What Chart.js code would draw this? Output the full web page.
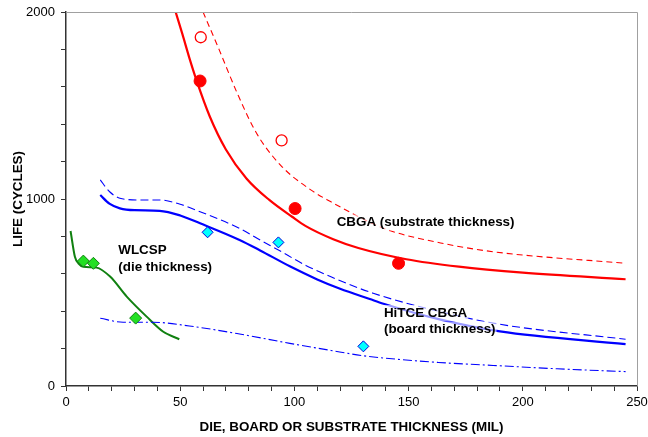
<!DOCTYPE html>
<html>
<head>
<meta charset="utf-8">
<script src="https://cdn.jsdelivr.net/npm/chart.js@4.4.0/dist/chart.umd.min.js"></script>
<style>
  html, body { margin: 0; padding: 0; background: #fff; }
  #wrap { width: 648px; height: 437px; }
</style>
</head>
<body>
<div id="wrap"><canvas id="chart"></canvas></div>
<script>
// --- 数据区域 (thickness in mil, life in cycles) ---
const xTicksLabelled = [0, 50, 100, 150, 200, 250];
const yTicksLabelled = [0, 1000, 2000];

// CBGA (substrate thickness) fitted curves
const cbgaSolidX = [48, 51, 54, 57, 63, 70, 79, 89, 99, 105, 117, 128, 149, 172, 200, 245];
const cbgaSolidY = [2000, 1880, 1755, 1640, 1440, 1265, 1110, 995, 905, 855, 785, 738, 678, 638, 606, 571];
const cbgaDashX = [60, 67, 75, 83.5, 94, 107, 116, 134, 142, 164, 187, 245];
const cbgaDashY = [2000, 1800, 1565, 1350, 1180, 1050, 985, 870, 830, 765, 718, 656];
const cbgaFilledX = [58.7, 100.3, 145.6];
const cbgaFilledY = [1631, 949, 656];
const cbgaOpenX = [59, 94.4];
const cbgaOpenY = [1865, 1313];

// HiTCE CBGA (board thickness)
const hitceSolidX = [15, 19, 23.6, 30, 41, 50, 58.7, 76, 85, 98, 110, 120, 133, 139, 164, 190, 245];
const hitceSolidY = [1021, 975, 950, 940, 937, 912, 870, 781, 725, 640, 570, 520, 465, 440, 355, 292, 224];
const hitceDashX = [15, 19, 23.6, 32, 41, 50, 58.7, 76, 85, 93, 105, 116, 134.5, 164, 190, 245];
const hitceDashY = [1102, 1040, 1004, 995, 995, 972, 932, 843, 781, 727, 645, 584, 496, 397, 330, 250];
const hitceDotX = [15, 25, 38, 54, 76, 98, 116, 130, 145, 163, 187, 215, 245];
const hitceDotY = [362, 341, 341, 321, 278, 228, 190, 162, 143, 126, 110, 92, 77];
const hitcePtsX = [62, 93, 130.2];
const hitcePtsY = [822, 768, 212];

// WLCSP (die thickness)
const wlcspX = [2, 3.9, 5.5, 7.6, 13.4, 19.3, 26.6, 35.3, 42.6, 49.6];
const wlcspY = [829, 691, 655, 638, 633, 585, 478, 371, 290, 250];
const wlcspPtsX = [7.6, 12, 30.5];
const wlcspPtsY = [668, 656, 363];

// 图中文字标注 (data coordinates of left / baseline)
const notes = [
    { text: 'CBGA (substrate thickness)', x: 118.5, y: 853 },
    { text: 'HiTCE CBGA', x: 139.2, y: 369 },
    { text: '(board thickness)', x: 139.2, y: 281 },
    { text: 'WLCSP', x: 22.9, y: 706 },
    { text: '(die thickness)', x: 22.9, y: 615 }
];

const pts = (xs, ys) => xs.map((x, i) => ({ x: x, y: ys[i] }));
const FONT = "'Liberation Sans', Arial, sans-serif";

function curve(xs, ys, color, width, dash) {
    return {
        data: pts(xs, ys), showLine: true, borderColor: color, borderWidth: width,
        borderDash: dash || [], pointRadius: 0, cubicInterpolationMode: 'monotone', fill: false
    };
}
function marks(xs, ys, style, radius, fillColor, edgeColor, edgeWidth) {
    return {
        data: pts(xs, ys), showLine: false, pointStyle: style, pointRadius: radius,
        backgroundColor: fillColor, borderColor: edgeColor, borderWidth: edgeWidth
    };
}

// 外框 + 文字标注
const framePlugin = {
    id: 'frame',
    afterDatasetsDraw(chart) {
        const { ctx, chartArea: a, scales } = chart;
        ctx.save();
        ctx.strokeStyle = '#a0a0a0';
        ctx.lineWidth = 1;
        ctx.beginPath();
        ctx.moveTo(a.left, a.top + 0.5);
        ctx.lineTo(a.right + 0.5, a.top + 0.5);
        ctx.lineTo(a.right + 0.5, a.bottom);
        ctx.stroke();

        ctx.font = 'bold 13.4px ' + FONT;
        ctx.textBaseline = 'alphabetic';
        ctx.textAlign = 'left';
        notes.forEach(n => {
            const px = scales.x.getPixelForValue(n.x);
            const py = scales.y.getPixelForValue(n.y);
            const w = ctx.measureText(n.text).width;
            ctx.fillStyle = 'rgba(255,255,255,0.6)';
            ctx.fillRect(px - 1, py - 12, w + 2, 16);
            ctx.fillStyle = '#000';
            ctx.fillText(n.text, px, py);
        });
        ctx.restore();
    }
};

new Chart(document.getElementById('chart'), {
    type: 'scatter',
    data: {
        datasets: [
            marks(cbgaFilledX, cbgaFilledY, 'circle', 6, '#ff0000', '#ff0000', 1),
            marks(cbgaOpenX, cbgaOpenY, 'circle', 5.5, '#ffffff', '#ff0000', 1.3),
            marks(hitcePtsX, hitcePtsY, 'rectRot', 5.5, '#00ffff', '#0000dd', 1),
            marks(wlcspPtsX, wlcspPtsY, 'rectRot', 6, '#22e022', '#108010', 1),
            curve(cbgaSolidX, cbgaSolidY, '#ff0000', 2.2),
            curve(cbgaDashX, cbgaDashY, '#ff0000', 1.1, [6, 4]),
            curve(hitceSolidX, hitceSolidY, '#0000ff', 2.2),
            curve(hitceDashX, hitceDashY, '#0000ff', 1.1, [8, 4]),
            curve(hitceDotX, hitceDotY, '#0000ff', 1.1, [9, 3, 2, 3]),
            curve(wlcspX, wlcspY, '#108010', 2)
        ]
    },
    options: {
        responsive: true, maintainAspectRatio: false, animation: false,
        layout: { padding: { top: 12, right: 11, left: 0, bottom: 0 } },
        plugins: { legend: { display: false }, tooltip: { enabled: false } },
        scales: {
            x: {
                type: 'linear', min: 0, max: 250,
                afterFit: s => { s.height = 51; s.paddingLeft = 0; s.paddingRight = 0; },
                grid: { drawOnChartArea: false, drawTicks: true, tickLength: 5, color: '#333' },
                border: { color: '#333', width: 1.5 },
                ticks: {
                    stepSize: 10, autoSkip: false, maxRotation: 0, padding: 4, color: '#000',
                    font: { family: FONT, size: 13 },
                    callback: v => xTicksLabelled.includes(v) ? v : ''
                },
                title: {
                    display: true, text: 'DIE, BOARD OR SUBSTRATE THICKNESS (MIL)', color: '#000',
                    font: { family: FONT, size: 13.4, weight: 'bold' }, padding: { top: 0, bottom: 2 }
                }
            },
            y: {
                type: 'linear', min: 0, max: 2000,
                afterFit: s => { s.width = 66; s.paddingTop = 0; s.paddingBottom = 0; },
                grid: { drawOnChartArea: false, drawTicks: true, tickLength: 5, color: '#333' },
                border: { color: '#333', width: 1.5 },
                ticks: {
                    stepSize: 200, autoSkip: false, padding: 6, color: '#000',
                    font: { family: FONT, size: 13 },
                    callback: v => yTicksLabelled.includes(v) ? v : ''
                },
                title: {
                    display: true, text: 'LIFE (CYCLES)', color: '#000',
                    font: { family: FONT, size: 13.4, weight: 'bold' }, padding: { top: 10, bottom: 0 }
                }
            }
        }
    },
    plugins: [framePlugin]
});
</script>
</body>
</html>
